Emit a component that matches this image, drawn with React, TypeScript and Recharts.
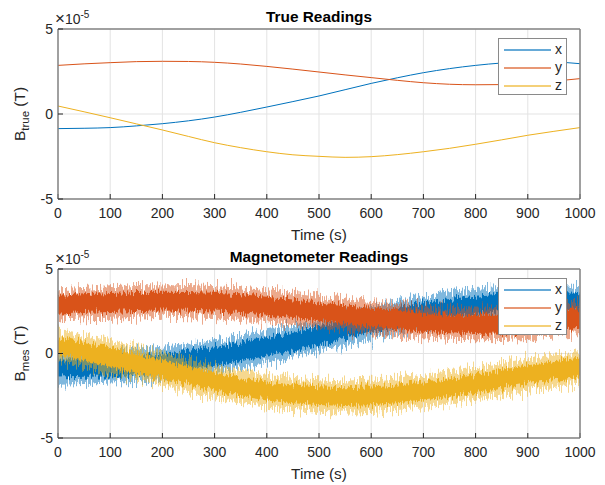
import React from 'react';
import { ComposedChart, Line, Area, XAxis, YAxis, CartesianGrid, Label } from 'recharts';

// time samples (s)
const times = [0, 50, 100, 150, 200, 250, 300, 350, 400, 450, 500, 550, 600, 650, 700, 750, 800, 850, 900, 950, 1000];

// True readings (units of 1e-5 T)
const trueX = [-0.86, -0.84, -0.8, -0.7, -0.57, -0.4, -0.18, 0.1, 0.41, 0.73, 1.06, 1.43, 1.8, 2.13, 2.43, 2.67, 2.86, 3.0, 3.08, 3.06, 2.96];
const trueY = [2.86, 2.95, 3.02, 3.08, 3.1, 3.09, 3.04, 2.94, 2.8, 2.64, 2.47, 2.3, 2.14, 1.98, 1.84, 1.75, 1.72, 1.73, 1.8, 1.93, 2.08];
const trueZ = [0.47, 0.13, -0.22, -0.58, -0.94, -1.32, -1.69, -1.98, -2.22, -2.4, -2.49, -2.55, -2.51, -2.39, -2.22, -2.02, -1.78, -1.52, -1.25, -1.02, -0.8];

// Magnetometer readings: dense noise core extents and spike extents (units of 1e-5 T)
const xCoreLo = [-1.42, -1.38, -1.36, -1.24, -1.13, -0.95, -0.72, -0.46, -0.13, 0.18, 0.5, 0.88, 1.26, 1.57, 1.88, 2.12, 2.3, 2.46, 2.52, 2.5, 2.42];
const xCoreHi = [-0.3, -0.29, -0.25, -0.15, -0.02, 0.16, 0.37, 0.65, 0.96, 1.28, 1.62, 1.98, 2.35, 2.68, 2.98, 3.22, 3.41, 3.55, 3.63, 3.62, 3.5];
const xSpikeLo = [-1.85, -1.8, -1.72, -1.68, -1.5, -1.36, -1.1, -0.88, -0.55, -0.24, 0.1, 0.48, 0.86, 1.18, 1.5, 1.72, 1.9, 2.05, 2.12, 2.1, 2.0];
const xSpikeHi = [0.12, 0.1, 0.16, 0.28, 0.4, 0.58, 0.78, 1.05, 1.38, 1.7, 2.02, 2.4, 2.76, 3.1, 3.4, 3.62, 3.82, 3.95, 4.05, 4.02, 3.92];

const yCoreLo = [2.3, 2.4, 2.46, 2.52, 2.55, 2.53, 2.48, 2.4, 2.24, 2.1, 1.92, 1.75, 1.58, 1.44, 1.28, 1.2, 1.16, 1.18, 1.25, 1.38, 1.52];
const yCoreHi = [3.42, 3.5, 3.58, 3.64, 3.66, 3.64, 3.6, 3.5, 3.36, 3.2, 3.02, 2.86, 2.7, 2.54, 2.4, 2.3, 2.28, 2.3, 2.36, 2.48, 2.64];
const ySpikeLo = [1.95, 2.02, 2.05, 2.12, 2.18, 2.15, 2.1, 2.0, 1.85, 1.7, 1.52, 1.36, 1.2, 1.05, 0.9, 0.82, 0.78, 0.8, 0.86, 1.0, 1.15];
const ySpikeHi = [3.8, 3.88, 3.98, 4.05, 4.02, 4.05, 3.98, 3.9, 3.75, 3.6, 3.42, 3.25, 3.1, 2.94, 2.78, 2.7, 2.66, 2.68, 2.76, 2.88, 3.02];

const zCoreLo = [-0.08, -0.42, -0.78, -1.12, -1.5, -1.86, -2.25, -2.52, -2.78, -2.95, -3.05, -3.1, -3.06, -2.95, -2.78, -2.56, -2.34, -2.08, -1.8, -1.58, -1.36];
const zCoreHi = [1.02, 0.68, 0.34, -0.03, -0.38, -0.76, -1.14, -1.42, -1.66, -1.84, -1.94, -2.0, -1.96, -1.84, -1.66, -1.46, -1.22, -0.96, -0.7, -0.46, -0.24];
const zSpikeLo = [-0.5, -0.8, -1.18, -1.52, -1.9, -2.28, -2.65, -2.92, -3.15, -3.35, -3.45, -3.5, -3.46, -3.35, -3.18, -2.96, -2.72, -2.48, -2.2, -1.98, -1.75];
const zSpikeHi = [1.42, 1.1, 0.74, 0.38, 0.0, -0.36, -0.72, -1.0, -1.25, -1.45, -1.52, -1.6, -1.56, -1.42, -1.25, -1.05, -0.82, -0.56, -0.3, -0.08, 0.15];

const seriesNames = ['x', 'y', 'z'];
const seriesColors = ['#0072BD', '#D95319', '#EDB120'];
const xTicks = [0, 100, 200, 300, 400, 500, 600, 700, 800, 900, 1000];
const yTicks = [-5, 0, 5];

const trueRows = times.map((t, i) => ({ t, x: trueX[i], y: trueY[i], z: trueZ[i] }));
const mesRows = times.map((t, i) => ({
  t,
  xc: [xCoreLo[i], xCoreHi[i]],
  xs: [xSpikeLo[i], xSpikeHi[i]],
  yc: [yCoreLo[i], yCoreHi[i]],
  ys: [ySpikeLo[i], ySpikeHi[i]],
  zc: [zCoreLo[i], zCoreHi[i]],
  zs: [zSpikeLo[i], zSpikeHi[i]],
}));

const AX = '#262626';
const BOX = '#858585';
const FONT = '"Liberation Sans", Arial, sans-serif';

function axes(title: string, sub: string) {
  const titleContent = (props: any) => {
    const vb = props.viewBox || {};
    const cx = vb.x + vb.width / 2;
    const py = vb.y + vb.height;
    return (
      <g>
        <text x={cx} y={py - 7} textAnchor="middle" fontSize={15.4} fontWeight="bold" fill="#000">{title}</text>
        <text x={vb.x - 3} y={py - 5} fontSize={14} fill={AX}>
          <tspan fontSize={17}>×</tspan>10<tspan dy={-6} fontSize={10}>-5</tspan>
        </text>
      </g>
    );
  };
  const ylabContent = (props: any) => {
    const vb = props.viewBox || {};
    const bx = vb.x + vb.width - 33;
    const cy = vb.y + vb.height / 2;
    return (
      <text transform={`translate(${bx},${cy}) rotate(-90)`} textAnchor="middle" fontSize={15.4} fill={AX}>
        B<tspan dy={4} fontSize={11.5}>{sub}</tspan><tspan dy={-4}> (T)</tspan>
      </text>
    );
  };
  const xlabContent = (props: any) => {
    const vb = props.viewBox || {};
    return (
      <text x={vb.x + vb.width / 2} y={vb.y + 41} textAnchor="middle" fontSize={15.4} fill={AX}>Time (s)</text>
    );
  };
  return [
    <CartesianGrid key="grid" xAxisId="b" yAxisId="l" stroke="#e3e3e3" strokeWidth={1} />,
    <XAxis key="xb" xAxisId="b" dataKey="t" type="number" domain={[0, 1000]} ticks={xTicks} height={30}
      allowDataOverflow interval={0}
      axisLine={{ stroke: BOX, strokeWidth: 1.5 }} tickLine={{ stroke: AX }} tickSize={-5} tickMargin={14}
      tick={{ fontSize: 14, fill: AX }}>
      <Label content={xlabContent} />
    </XAxis>,
    <XAxis key="xt" xAxisId="t" orientation="top" dataKey="t" type="number" domain={[0, 1000]} ticks={xTicks} height={1}
      allowDataOverflow interval={0}
      axisLine={{ stroke: BOX, strokeWidth: 1.5 }} tickLine={{ stroke: AX }} tickSize={-5} tick={false}>
      <Label content={titleContent} />
    </XAxis>,
    <YAxis key="yl" yAxisId="l" type="number" domain={[-5, 5]} ticks={yTicks} width={40}
      allowDataOverflow interval={0}
      axisLine={{ stroke: BOX, strokeWidth: 1.5 }} tickLine={{ stroke: AX }} tickSize={-5} tickMargin={10}
      tick={{ fontSize: 14, fill: AX }}>
      <Label content={ylabContent} />
    </YAxis>,
    <YAxis key="yr" yAxisId="r" orientation="right" type="number" domain={[-5, 5]} ticks={yTicks} width={1}
      allowDataOverflow interval={0}
      axisLine={{ stroke: BOX, strokeWidth: 1.5 }} tickLine={{ stroke: AX }} tickSize={-5} tick={false} />,
  ];
}

function LegendBox({ top }: { top: number }) {
  return (
    <div style={{
      position: 'absolute', left: 498, top, width: 67, height: 55,
      border: '1.5px solid #8a8a8a', background: '#fff', fontFamily: FONT,
    }}>
      {seriesNames.map((n, i) => (
        <div key={n} style={{ position: 'absolute', left: 0, top: 2 + i * 18, height: 18, width: 67 }}>
          <div style={{ position: 'absolute', left: 5, top: 8, width: 47, height: 1.5, background: seriesColors[i], opacity: 0.6 }} />
          <div style={{ position: 'absolute', left: 56, top: 0, fontSize: 14, lineHeight: '17px', color: AX }}>{n}</div>
        </div>
      ))}
    </div>
  );
}

// texture filters that give the measured bands their jagged, noisy look
const noiseSeeds = [3, 11, 29];
function NoiseDefs() {
  const filt = (id: string, seed: number, freq: string, scale: number) => (
    <filter key={id} id={id} x="0" y="-0.8" width="1" height="2.6" filterUnits="objectBoundingBox"
      colorInterpolationFilters="sRGB">
      <feTurbulence type="fractalNoise" baseFrequency={freq} numOctaves={2} seed={seed} result="t" />
      <feColorMatrix in="t" type="matrix" values="0 0 0 0 0.5  0 1 0 0 0  0 0 0 0 0.5  0 0 0 0 1" result="m" />
      <feDisplacementMap in="SourceGraphic" in2="m" scale={scale} xChannelSelector="R" yChannelSelector="G" />
    </filter>
  );
  const css = seriesNames.map((n, i) =>
    `.nzc${i} .recharts-area-area{filter:url(#nzc${i});} .nzs${i} .recharts-area-area{filter:url(#nzs${i});}`
  ).join('\n');
  return (
    <>
      <style>{css}</style>
      <svg width={0} height={0} style={{ position: 'absolute', left: 0, top: 0 }}>
        <defs>
          {noiseSeeds.map((s, i) => [
            filt(`nzc${i}`, s, '0.8 0.025', 14),
            filt(`nzs${i}`, s + 50, '0.8 0.05', 26),
          ])}
        </defs>
      </svg>
    </>
  );
}

export default function App() {
  return (
    <div style={{ position: 'absolute', left: 0, top: 0, width: 605, height: 485, background: '#fff', fontFamily: FONT }}>
      <NoiseDefs />
      <div style={{ position: 'absolute', left: 0, top: 0 }}>
        <ComposedChart width={605} height={245} data={trueRows} margin={{ top: 28, right: 24, bottom: 16, left: 18 }}>
          {axes('True Readings', 'true')}
          {seriesNames.map((n, i) => (
            <Line key={n} xAxisId="b" yAxisId="l" type="monotone" dataKey={n} stroke={seriesColors[i]}
              strokeWidth={1} dot={false} activeDot={false} isAnimationActive={false} />
          ))}
        </ComposedChart>
      </div>
      <div style={{ position: 'absolute', left: 0, top: 245 }}>
        <ComposedChart width={605} height={240} data={mesRows} margin={{ top: 23, right: 24, bottom: 17, left: 18 }}>
          {axes('Magnetometer Readings', 'mes')}
          {seriesNames.map((n, i) => [
            <Area key={n + 's'} className={`nzs${i}`} xAxisId="b" yAxisId="l" type="linear" dataKey={n + 's'} stroke="none"
              fill={seriesColors[i]} fillOpacity={0.5} isAnimationActive={false} activeDot={false} />,
            <Area key={n + 'c'} className={`nzc${i}`} xAxisId="b" yAxisId="l" type="linear" dataKey={n + 'c'} stroke="none"
              fill={seriesColors[i]} fillOpacity={1} isAnimationActive={false} activeDot={false} />,
          ])}
        </ComposedChart>
      </div>
      <LegendBox top={38} />
      <LegendBox top={278} />
    </div>
  );
}
